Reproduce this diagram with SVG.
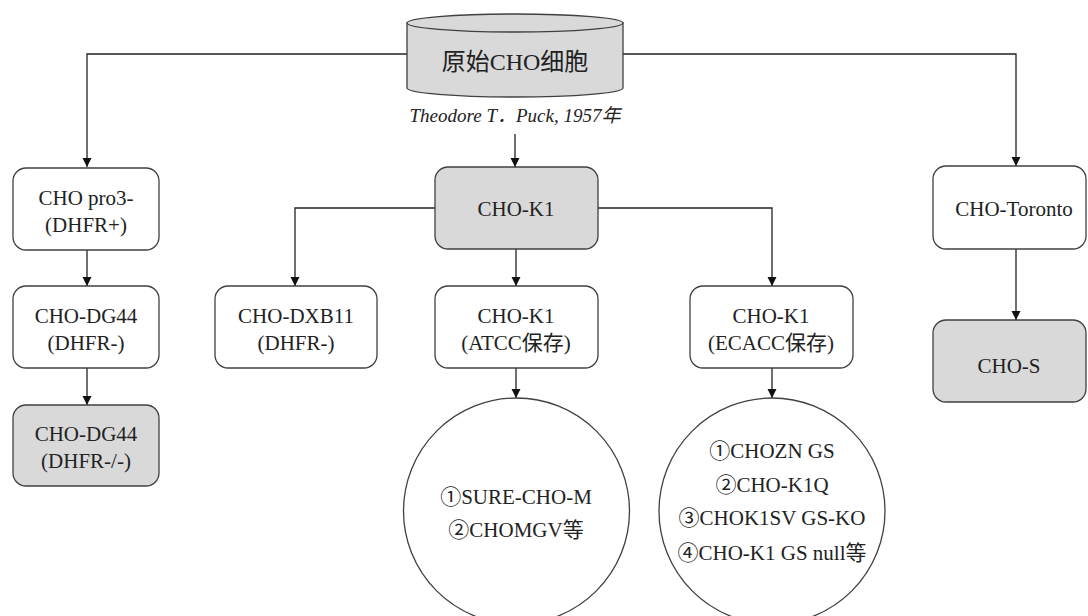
<svg xmlns="http://www.w3.org/2000/svg" width="1088" height="616" viewBox="0 0 1088 616">
<defs>
<marker id="arr" markerUnits="userSpaceOnUse" markerWidth="10" markerHeight="10" refX="9" refY="5" orient="auto">
<path d="M0,0.5 L9,5 L0,9.5 Z" fill="#111"/>
</marker>
<style>
.box{fill:#fff;stroke:#404040;stroke-width:1.3}
.gray{fill:#d9d9d9}
.t{font-family:"Liberation Serif","Noto Sans CJK SC",serif;font-size:21px;fill:#222;text-anchor:middle}
.big{font-size:24px}
.cap{font-family:"Liberation Serif","Noto Sans CJK SC",serif;font-size:19px;font-style:italic;fill:#222;text-anchor:middle}
.c{fill:none;stroke:#222;stroke-width:1.3;marker-end:url(#arr)}
</style>
</defs>
<rect width="1088" height="616" fill="#fff"/>
<g id="connectors">
<path class="c" d="M407,54 H87 V167"/>
<path class="c" d="M623,54 H1016 V166"/>
<path class="c" d="M515,134 V167"/>
<path class="c" d="M87,250 V286"/>
<path class="c" d="M87,368 V405"/>
<path class="c" d="M435,208 H295 V286"/>
<path class="c" d="M598,208 H772 V286"/>
<path class="c" d="M516,249 V286"/>
<path class="c" d="M516,368 V398"/>
<path class="c" d="M772,368 V398"/>
<path class="c" d="M1016,249 V320"/>
</g>
<g id="origin">
<path class="box gray" d="M407,23 V88 A108,9 0 0 0 623,88 V23 Z"/>
<ellipse class="box gray" cx="515" cy="23" rx="108" ry="9"/>
<text class="t big" x="515" y="70">原始CHO细胞</text>
<text class="cap" x="515" y="122">Theodore T．Puck, 1957年</text>
</g>
<g id="pro3">
<rect class="box" x="13" y="168" width="146" height="82" rx="13"/>
<text class="t" x="86" y="205">CHO pro3-</text>
<text class="t" x="86" y="232">(DHFR+)</text>
</g>
<g id="dg44">
<rect class="box" x="13" y="286" width="146" height="82" rx="13"/>
<text class="t" x="86" y="323">CHO-DG44</text>
<text class="t" x="86" y="350">(DHFR-)</text>
</g>
<g id="dg44b">
<rect class="box gray" x="13" y="405" width="146" height="81" rx="13"/>
<text class="t" x="86" y="441">CHO-DG44</text>
<text class="t" x="86" y="468">(DHFR-/-)</text>
</g>
<g id="k1">
<rect class="box gray" x="435" y="167" width="163" height="82" rx="13"/>
<text class="t" x="516" y="216">CHO-K1</text>
</g>
<g id="dxb11">
<rect class="box" x="215" y="286" width="162" height="82" rx="13"/>
<text class="t" x="296" y="323">CHO-DXB11</text>
<text class="t" x="296" y="350">(DHFR-)</text>
</g>
<g id="atcc">
<rect class="box" x="435" y="286" width="163" height="82" rx="13"/>
<text class="t" x="516" y="323">CHO-K1</text>
<text class="t" x="516" y="350">(ATCC保存)</text>
</g>
<g id="ecacc">
<rect class="box" x="690" y="286" width="163" height="82" rx="13"/>
<text class="t" x="771" y="323">CHO-K1</text>
<text class="t" x="771" y="350">(ECACC保存)</text>
</g>
<g id="toronto">
<rect class="box" x="933" y="166" width="153" height="83" rx="13"/>
<text class="t" x="1014" y="216">CHO-Toronto</text>
</g>
<g id="chos">
<rect class="box gray" x="933" y="320" width="153" height="82" rx="13"/>
<text class="t" x="1009" y="373">CHO-S</text>
</g>
<g id="atcc-derived">
<circle class="box" cx="516.5" cy="511" r="113"/>
<text class="t" x="516" y="504">①SURE-CHO-M</text>
<text class="t" x="516" y="537">②CHOMGV等</text>
</g>
<g id="ecacc-derived">
<circle class="box" cx="772" cy="511" r="113"/>
<text class="t" x="772" y="458">①CHOZN GS</text>
<text class="t" x="772" y="492">②CHO-K1Q</text>
<text class="t" x="772" y="525">③CHOK1SV GS-KO</text>
<text class="t" x="772" y="560">④CHO-K1 GS null等</text>
</g>
</svg>
